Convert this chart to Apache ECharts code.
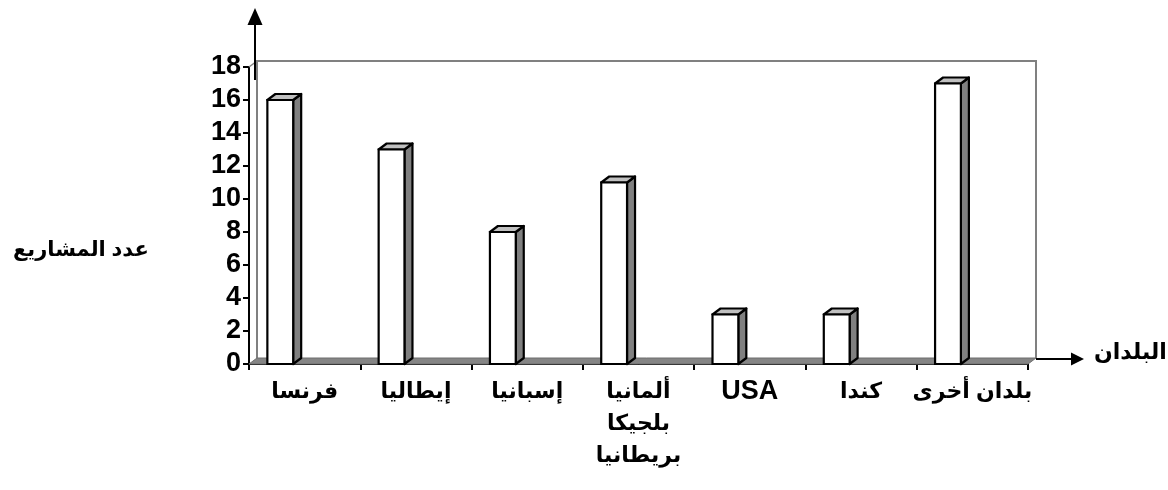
<!DOCTYPE html>
<html><head><meta charset="utf-8">
<script src="https://cdn.jsdelivr.net/npm/echarts@6/dist/echarts.min.js"></script>
<style>html,body{margin:0;padding:0;background:#fff}#c{width:1168px;height:490px}</style>
</head><body><div id="c"></div>
<script>
const categories = ['فرنسا', 'إيطاليا', 'إسبانيا', 'ألمانيا\nبلجيكا\nبريطانيا', 'USA', 'كندا', 'بلدان أخرى'];
const values = [16, 13, 8, 11, 3, 3, 17];
const yTicks = { min: 0, max: 18, interval: 2 };
const yAxisName = 'عدد المشاريع';
const xAxisName = 'البلدان';

const FONT = "Arial, 'Liberation Sans', 'DejaVu Sans', sans-serif";
const G = { left: 249, right: 140, top: 67, bottom: 126 };
const DX = 8, DY = -6;

const chart = echarts.init(document.getElementById('c'), null, { renderer: 'canvas' });

function frameItem(params, api) {
  const cs = params.coordSys;
  const x0 = cs.x, y0 = cs.y, x1 = cs.x + cs.width, y1 = cs.y + cs.height;
  return {
    type: 'group',
    children: [
      { type: 'polyline', shape: { points: [[x0 + DX, y1 + DY], [x0 + DX, y0 + DY], [x1 + DX, y0 + DY], [x1 + DX, y1 + DY]] },
        style: { stroke: '#808080', lineWidth: 2, fill: null } },
      { type: 'line', shape: { x1: x0, y1: y0, x2: x0 + DX, y2: y0 + DY }, style: { stroke: '#808080', lineWidth: 1.5 } },
      { type: 'polygon', shape: { points: [[x0, y1], [x0 + DX, y1 + DY], [x1 + DX, y1 + DY], [x1, y1]] },
        style: { fill: '#858585', stroke: '#6e6e6e', lineWidth: 1 } }
    ]
  };
}

function barItem(params, api) {
  const idx = api.value(0), v = api.value(1);
  const base = api.coord([idx, 0]);
  const top = api.coord([idx, v]);
  const band = api.size([1, 0])[0];
  const x = base[0] - band / 2 + band * 0.165;
  const w = band * 0.232;
  const yT = top[1], yB = base[1];
  return {
    type: 'group',
    children: [
      { type: 'polygon', shape: { points: [[x + w, yT], [x + w + DX, yT + DY], [x + w + DX, yB + DY], [x + w, yB]] },
        style: { fill: '#808080', stroke: '#000', lineWidth: 2.2, lineJoin: 'round' } },
      { type: 'polygon', shape: { points: [[x, yT], [x + DX, yT + DY], [x + w + DX, yT + DY], [x + w, yT]] },
        style: { fill: '#c0c0c0', stroke: '#000', lineWidth: 2.2, lineJoin: 'round' } },
      { type: 'rect', shape: { x: x, y: yT, width: w, height: yB - yT },
        style: { fill: '#ffffff', stroke: '#000', lineWidth: 2.2 } }
    ]
  };
}

chart.setOption({
  animation: false,
  backgroundColor: '#ffffff',
  grid: { left: G.left, right: G.right, top: G.top, bottom: G.bottom, containLabel: false },
  xAxis: {
    type: 'category', data: categories, boundaryGap: true,
    axisLine: { lineStyle: { color: '#000', width: 2 } },
    axisTick: { show: true, interval: 0, length: 6, lineStyle: { color: '#000', width: 2 } },
    axisLabel: {
      interval: 0, margin: 12, color: '#000', fontWeight: 'bold', fontSize: 22, lineHeight: 32, fontFamily: FONT,
      formatter: (s) => /^[A-Za-z]+$/.test(s) ? '{lat|' + s + '}' : s,
      rich: { lat: { fontSize: 27, fontWeight: 'bold', fontFamily: FONT, color: '#000', lineHeight: 32 } }
    },
    splitLine: { show: false }
  },
  yAxis: {
    type: 'value', min: yTicks.min, max: yTicks.max, interval: yTicks.interval,
    axisLine: { show: true, lineStyle: { color: '#000', width: 2 } },
    axisTick: { show: true, length: 6, lineStyle: { color: '#000', width: 2 } },
    axisLabel: { margin: 8, color: '#000', fontWeight: 'bold', fontSize: 27, fontFamily: FONT },
    splitLine: { show: false }
  },
  series: [
    { type: 'custom', name: 'frame', renderItem: frameItem, data: [[0, 0]], z: 1, silent: true },
    { type: 'custom', name: 'values', renderItem: barItem, data: values.map((v, i) => [i, v]), z: 3,
      encode: { x: 0, y: 1 } }
  ]
});

const r = chart.getModel().getComponent('grid').coordinateSystem.getRect();
const ax = r.x, ay = r.y, aw = r.width, ah = r.height;
const xArrowY = ay + ah + DY + 1;

chart.setOption({
  graphic: [
    { type: 'line', shape: { x1: ax + 6, y1: ay + 13, x2: ax + 6, y2: 22 }, style: { stroke: '#000', lineWidth: 2 }, z: 10 },
    { type: 'polygon', shape: { points: [[ax + 6, 8], [ax - 1.5, 25], [ax + 13.5, 25]] }, style: { fill: '#000' }, z: 10 },
    { type: 'line', shape: { x1: ax + aw + DX, y1: xArrowY, x2: ax + aw + 45, y2: xArrowY }, style: { stroke: '#000', lineWidth: 2 }, z: 10 },
    { type: 'polygon', shape: { points: [[ax + aw + 56, xArrowY], [ax + aw + 43, xArrowY - 6.5], [ax + aw + 43, xArrowY + 6.5]] }, style: { fill: '#000' }, z: 10 },
    { type: 'text', left: 1094, top: ay + ah - 22, style: { text: xAxisName, fill: '#000', font: 'bold 22px ' + FONT } },
    { type: 'text', left: 13, top: 240, style: { text: yAxisName, fill: '#000', font: 'bold 21px ' + FONT } }
  ]
});
</script></body></html>
